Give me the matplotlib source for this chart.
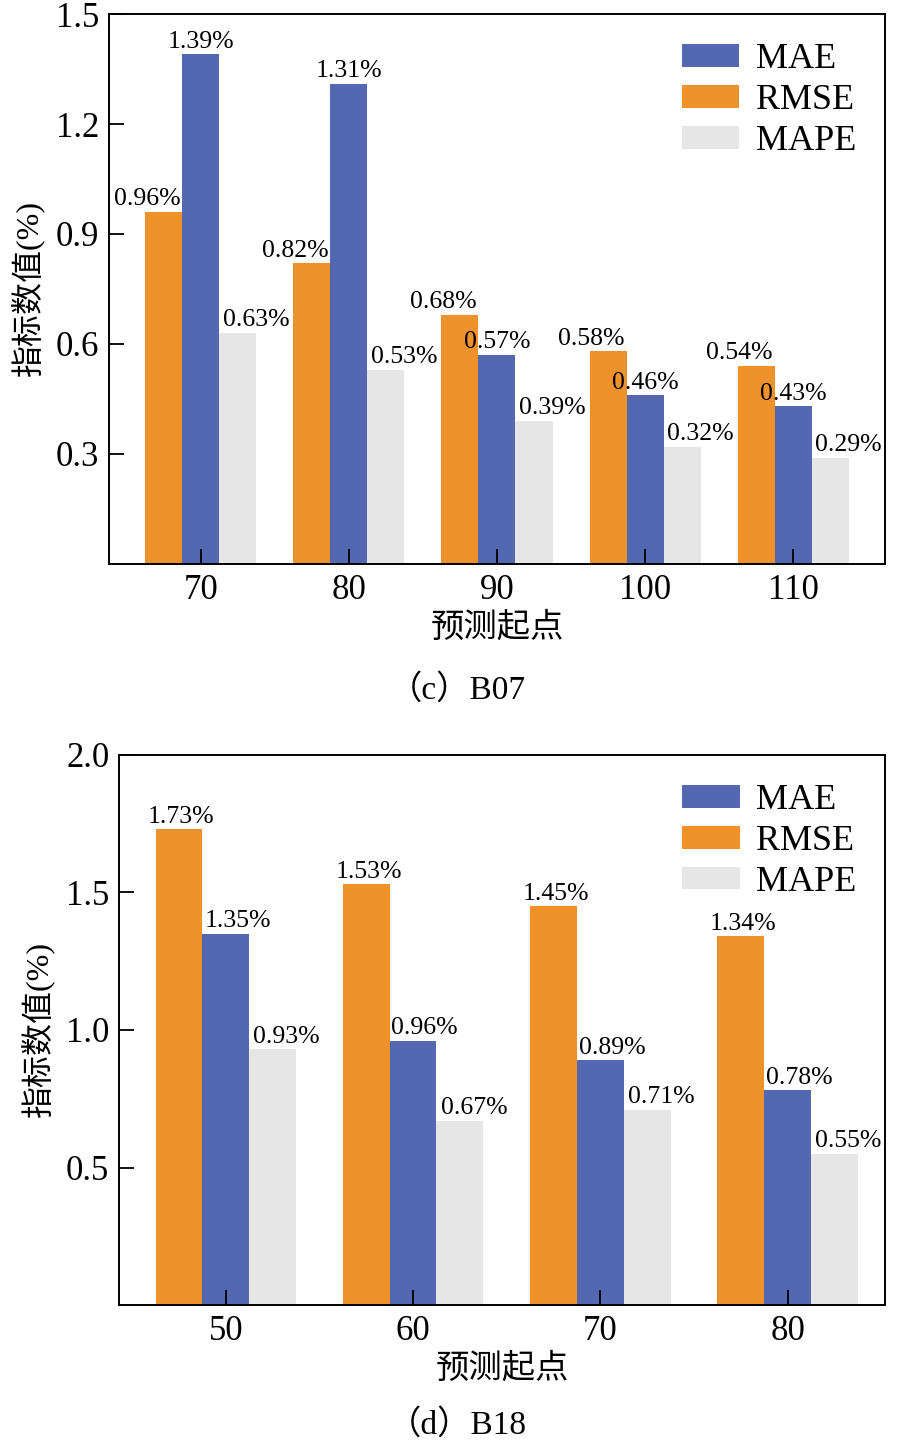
import matplotlib.pyplot as plt
import numpy as np

plt.rcParams['font.family'] = ['Liberation Serif', 'Noto Sans CJK SC']

# (c) B07
cats_c = ['70', '80', '90', '100', '110']
rmse_c = [0.96, 0.82, 0.68, 0.58, 0.54]
mae_c = [1.39, 1.31, 0.57, 0.46, 0.43]
mape_c = [0.63, 0.53, 0.39, 0.32, 0.29]
yticks_c = [0.3, 0.6, 0.9, 1.2, 1.5]

# (d) B18
cats_d = ['50', '60', '70', '80']
rmse_d = [1.73, 1.53, 1.45, 1.34]
mae_d = [1.35, 0.96, 0.89, 0.78]
mape_d = [0.93, 0.67, 0.71, 0.55]
yticks_d = [0.5, 1.0, 1.5, 2.0]

c_mae = '#5468b2'
c_rmse = '#f0922b'
c_mape = '#e6e6e6'
w = 0.25

fig = plt.figure(figsize=(8.97, 14.46), dpi=100)
ax1 = fig.add_axes([0.1215, 0.6100, 0.8651, 0.3803])
ax2 = fig.add_axes([0.1327, 0.0975, 0.8540, 0.3804])


def draw(ax, cats, rmse, mae, mape, yticks, ylim, xlim, offs, caption, cap_y):
    x = np.arange(len(cats))
    b_r = ax.bar(x - w, rmse, w, color=c_rmse, label='RMSE')
    b_m = ax.bar(x, mae, w, color=c_mae, label='MAE')
    b_p = ax.bar(x + w, mape, w, color=c_mape, label='MAPE')
    # value labels
    for vals, shift, off in [(rmse, -w, offs[0]), (mae, 0, offs[1]), (mape, w, offs[2])]:
        for xi, v in zip(x, vals):
            ax.text(xi + shift + off * w, v + ylim[1] * 0.003, '%.2f%%' % v,
                    ha='center', va='bottom', fontsize=18.5)
    ax.set_xticks(x)
    ax.set_xticklabels(cats)
    ax.set_yticks(yticks)
    ax.set_ylim(ylim)
    ax.set_xlim(xlim)
    ax.tick_params(direction='in', length=11, width=1.3, labelsize=25, pad=7)
    for s in ax.spines.values():
        s.set_linewidth(1.4)
    ax.set_xlabel('预测起点', fontsize=24, labelpad=4)
    ax.set_ylabel('指标数值(%)', fontsize=23, labelpad=8)
    ax.legend([b_m, b_r, b_p], ['MAE', 'RMSE', 'MAPE'], loc='upper right',
              frameon=False, fontsize=26, handlelength=1.6, handleheight=0.6,
              labelspacing=0.22, handletextpad=0.45, borderaxespad=0.4)
    fig.text(0.51, cap_y, caption, ha='center', va='center', fontsize=24)


draw(ax1, cats_c, rmse_c, mae_c, mape_c, yticks_c, (0, 1.5), (-0.62, 4.62),
     (-0.45, 0, 0.5), '（c）B07', 1 - 690 / 1446)
draw(ax2, cats_d, rmse_d, mae_d, mape_d, yticks_d, (0, 2.0), (-0.57, 3.52),
     (0.05, 0.25, 0.3), '（d）B18', 1 - 1425 / 1446)

fig.savefig('out.png', dpi=100)
